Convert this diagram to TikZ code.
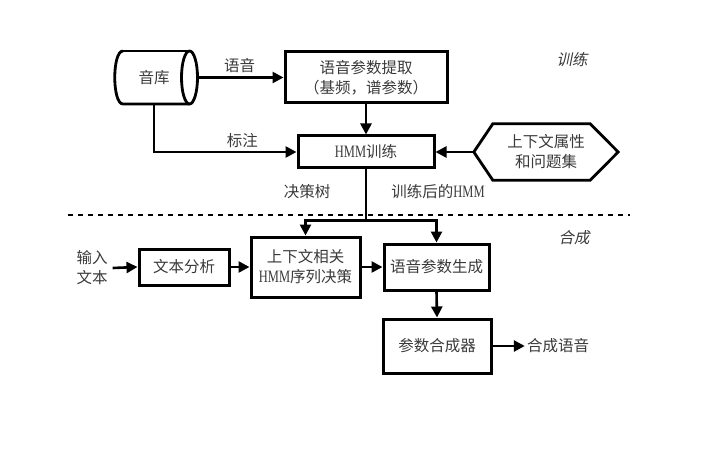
\documentclass[tikz,border=0pt]{standalone}
\usepackage{fontspec}
\setmainfont{Noto Sans CJK SC}
\newfontfamily\lat[FakeStretch=0.72,Scale=1.12]{Liberation Serif}
\newfontfamily\cjkit[FakeSlant=0.2]{Noto Sans CJK SC}
\usetikzlibrary{arrows.meta,calc}
\definecolor{txt}{HTML}{3A3A3A}
\begin{document}
\begin{tikzpicture}[x=1pt,y=-1pt,
 box/.style={draw, line width=3pt, inner sep=0pt, align=center, text=txt, font=\fontsize{15.5}{20}\selectfont},
 conn/.style={line width=2.6pt, -{Triangle[length=11pt,width=11pt]}},
 plain/.style={line width=2.6pt},
 lbl/.style={text=txt, font=\fontsize{15.5}{20}\selectfont, inner sep=2pt, align=center},
 sect/.style={text=txt, font=\fontsize{15.5}{20}\cjkit, inner sep=0pt}]
\useasboundingbox (0,0) rectangle (706,449);

% cylinder 音库
\node[lbl, minimum width=83pt, minimum height=53pt, inner sep=0pt] (db) at (154,77.5) {音库};
\draw[line width=2.8pt] (123,51) .. controls (112,51) and (112,104) .. (123,104) -- (189.5,104);
\draw[line width=2.8pt] (123,51) -- (189.5,51);
\draw[line width=2.8pt] (189.5,77.5) ellipse[x radius=8pt, y radius=26.5pt];

% boxes
\node[box, minimum width=162pt, minimum height=51pt] (ext) at (366,77.5) {语音参数提取\\（基频，谱参数）};
\node[box, minimum width=136pt, minimum height=32pt] (hmm) at (366,152) {{\lat HMM}训练};
\node[lbl, minimum width=144pt, minimum height=56pt, inner sep=0pt] (hex) at (546,152) {上下文属性\\和问题集};
\draw[line width=2.8pt] (hex.west) -- ([xshift=19pt]hex.north west) -- ([xshift=-28pt]hex.north east)
  -- (hex.east) -- ([xshift=-28pt]hex.south east) -- ([xshift=19pt]hex.south west) -- cycle;

\node[lbl] (in) at (92,268) {输入\\文本};
\node[box, minimum width=90pt, minimum height=36pt] (ta) at (184,267) {文本分析};
\node[box, minimum width=109pt, minimum height=60pt] (ctx) at (305.5,267) {上下文相关\\{\lat HMM}序列决策};
\node[box, minimum width=105pt, minimum height=46pt] (gen) at (436.5,267) {语音参数生成};
\node[box, minimum width=108pt, minimum height=54pt] (syn) at (437,346) {参数合成器};
\node[lbl] (out) at (558,346) {合成语音};

% section labels and divider
\node[sect] (tr) at (572,60) {训练};
\node[sect] (hc) at (574,238) {合成};
\coordinate (dl) at (68,215);
\coordinate (dr) at (630,215);
\draw[line width=2pt, dash pattern=on 5pt off 5pt] (dl) -- (dr);

% connectors
\draw[conn] (db.east) -- node[lbl, above=1pt] (l1) {语音} (ext.west);
\draw[conn] (db.south) |- node[lbl, pos=0.81, above=1pt] (l2) {标注} (hmm.west);
\draw[conn] (ext.south) -- (hmm.north);
\draw[conn] (hex.west) -- (hmm.east);
\draw[plain] (hmm.south) -- ++(0,51) coordinate (sp);
\draw[conn] (sp) -| (ctx.north);
\draw[conn] (sp) -| (gen.north);
\node[lbl] (l3) at (307,192) {决策树};
\node[lbl] (l4) at (438,192) {训练后的{\lat HMM}};
\draw[conn] ([xshift=3pt]in.east) -- (ta.west);
\draw[conn] (ta.east) -- (ctx.west);
\draw[conn] (ctx.east) -- (gen.west);
\draw[conn] (gen.south) -- (syn.north);
\draw[conn] (syn.east) -- (out.west);
\end{tikzpicture}
\end{document}
